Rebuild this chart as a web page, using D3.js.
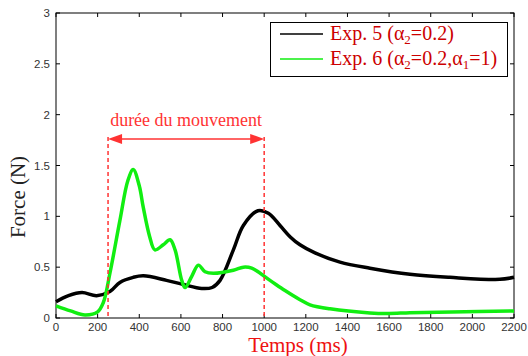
<!DOCTYPE html>
<html><head><meta charset="utf-8">
<script src="https://cdn.jsdelivr.net/npm/d3@7"></script>
<style>body{margin:0;background:#fff}svg{display:block}</style>
</head><body><svg id="c" width="528" height="356"></svg>
<script>
const xTicks = [0,200,400,600,800,1000,1200,1400,1600,1800,2000,2200];
const yTicks = [0,0.5,1,1.5,2,2.5,3];
const exp5T = [0,60,125,195,259,307,371,420,531,611,700,750,788,852,900,970,1020,1076,1124,1172,1244,1364,1508,1700,1892,2132,2200];
const exp5V = [0.16,0.22,0.25,0.22,0.26,0.35,0.40,0.415,0.37,0.33,0.29,0.30,0.37,0.67,0.91,1.055,1.03,0.91,0.80,0.72,0.64,0.55,0.49,0.43,0.40,0.38,0.40];
const exp6T = [0,70,139,200,227,259,307,345,371,400,419,450,475,515,548,572,604,620,652,684,716,756,852,900,940,1028,1100,1172,1220,1316,1508,1600,1700,1900,2200];
const exp6V = [0.12,0.07,0.03,0.06,0.15,0.44,0.96,1.35,1.46,1.30,1.09,0.80,0.67,0.72,0.77,0.67,0.37,0.30,0.41,0.52,0.455,0.44,0.47,0.50,0.49,0.37,0.27,0.18,0.13,0.09,0.05,0.045,0.052,0.06,0.07];
const moveStart = 250, moveEnd = 1000;
const labels = {x:"Temps (ms)", y:"Force (N)", move:"durée du mouvement"};

const svg = d3.select("#c");
const m = {l:56, r:514, t:13, b:318};
const x = d3.scaleLinear().domain([0,2200]).range([m.l,m.r]);
const y = d3.scaleLinear().domain([0,3]).range([m.b,m.t]);
const serif = "'Liberation Serif', 'Times New Roman', serif";

const g = svg.append("g");
const tickFont = "'Liberation Sans', Arial, sans-serif";
xTicks.forEach(t=>{
  g.append("line").attr("x1",x(t)).attr("x2",x(t)).attr("y1",m.b).attr("y2",m.b-4).attr("stroke","#000");
  g.append("line").attr("x1",x(t)).attr("x2",x(t)).attr("y1",m.t).attr("y2",m.t+4).attr("stroke","#000");
  g.append("text").attr("x",x(t)).attr("y",m.b+13).attr("text-anchor","middle")
   .attr("font-family",tickFont).attr("font-size",11.5).attr("fill","#333").text(t);
});
yTicks.forEach(t=>{
  g.append("line").attr("x1",m.l).attr("x2",m.l+4).attr("y1",y(t)).attr("y2",y(t)).attr("stroke","#000");
  g.append("line").attr("x1",m.r).attr("x2",m.r-4).attr("y1",y(t)).attr("y2",y(t)).attr("stroke","#000");
  g.append("text").attr("x",m.l-6).attr("y",y(t)+4).attr("text-anchor","end")
   .attr("font-family",tickFont).attr("font-size",11.5).attr("fill","#333").text(t);
});
svg.append("rect").attr("x",m.l).attr("y",m.t).attr("width",m.r-m.l).attr("height",m.b-m.t)
  .attr("fill","none").attr("stroke","#000").attr("stroke-width",1);

const line = d3.line().x(d=>x(d[0])).y(d=>y(d[1])).curve(d3.curveCatmullRom.alpha(0.5));
svg.append("path").datum(exp5T.map((t,i)=>[t,exp5V[i]])).attr("d",line)
  .attr("fill","none").attr("stroke","#000").attr("stroke-width",3.5);
svg.append("path").datum(exp6T.map((t,i)=>[t,exp6V[i]])).attr("d",line)
  .attr("fill","none").attr("stroke","#11ee11").attr("stroke-width",3.5);

const red = "#ff3333";
[moveStart, moveEnd].forEach(t=>{
  svg.append("line").attr("x1",x(t)).attr("x2",x(t)).attr("y1",137).attr("y2",m.b)
    .attr("stroke",red).attr("stroke-width",1.5).attr("stroke-dasharray","4,3");
});
const ay = 139;
svg.append("line").attr("x1",x(moveStart)+10).attr("x2",x(moveEnd)-10).attr("y1",ay).attr("y2",ay)
  .attr("stroke",red).attr("stroke-width",1.5);
svg.append("path").attr("d",`M${x(moveStart)},${ay} l14,-5 l0,10 z`).attr("fill",red);
svg.append("path").attr("d",`M${x(moveEnd)},${ay} l-14,-5 l0,10 z`).attr("fill",red);
svg.append("text").attr("x",(x(moveStart)+x(moveEnd))/2).attr("y",126).attr("text-anchor","middle")
  .attr("font-family",serif).attr("font-size",18).attr("fill",red).text(labels.move);

svg.append("text").attr("x",298).attr("y",352).attr("text-anchor","middle")
  .attr("font-family",serif).attr("font-size",21).attr("fill","#ee1111").text(labels.x);
svg.append("text").attr("transform","translate(25,197) rotate(-90)").attr("text-anchor","middle")
  .attr("font-family",serif).attr("font-size",21).attr("fill","#222").text(labels.y);

const lg = svg.append("g");
lg.append("rect").attr("x",270.5).attr("y",22.5).attr("width",237).attr("height",54)
  .attr("fill","#fff").attr("stroke","#000").attr("stroke-width",1);
const legendRows = [
  {c:"#000", parts:[["Exp. 5 (α",0],["2",1],["=0.2)",0]]},
  {c:"#11ee11", parts:[["Exp. 6 (α",0],["2",1],["=0.2,α",0],["1",1],["=1)",0]]}
];
legendRows.forEach((r,i)=>{
  const yy = 34 + i*25;
  lg.append("line").attr("x1",280).attr("x2",323).attr("y1",yy).attr("y2",yy).attr("stroke",r.c).attr("stroke-width",1.5);
  const tx = lg.append("text").attr("x",330).attr("y",yy+6).attr("font-family",serif)
    .attr("font-size",20).attr("fill","#cc0000");
  r.parts.forEach((p,j)=>{
    const ts = tx.append("tspan").text(p[0]);
    const prev = r.parts[j-1];
    if(p[1]) ts.attr("font-size",13).attr("dy",4);
    else if(prev && prev[1]) ts.attr("dy",-4);
  });
});
</script></body></html>
